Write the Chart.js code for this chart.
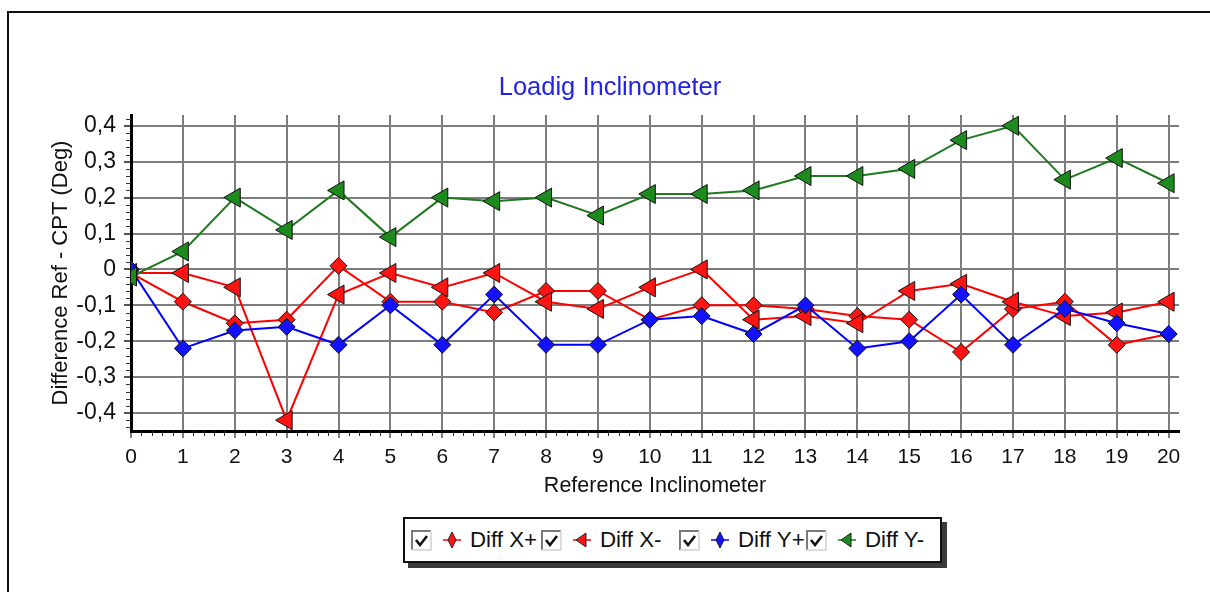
<!DOCTYPE html>
<html lang="en">
<head>
  <meta charset="UTF-8">
  <title>Loadig Inclinometer</title>
  <script src="https://cdn.jsdelivr.net/npm/chart.js"></script>
  <style>
    html, body { margin: 0; padding: 0; background: #fff; }
    body { width: 1210px; height: 592px; position: relative; overflow: hidden; font-family: "Liberation Sans", Arial, sans-serif; }
    #frame { position: absolute; left: 7px; top: 11px; right: -10px; bottom: -10px; border-top: 2px solid #111; border-left: 2px solid #111; }
    #chart { position: absolute; left: 0; top: 0; }
    #title { position: absolute; left: 410px; top: 71px; width: 400px; line-height: 30px; text-align: center; font-size: 25.5px; color: #2323e8; }
    #legend { position: absolute; left: 403px; top: 517px; height: 42px; padding: 0 16px 0 6px; border: 2px solid #111; background: #fff;
              box-shadow: 5px 5px 0 #3a3a3a; display: flex; align-items: center; font-size: 22.3px; color: #111; white-space: nowrap; }
    .item { display: flex; align-items: center; flex-shrink: 0; }
    .item svg { display: block; flex-shrink: 0; }
    .item .check { margin-right: 11px; }
    .item .icon { margin-right: 9px; }
    .item:nth-child(1) { width: 130px; }
    .item:nth-child(2) { width: 138px; }
    .item:nth-child(3) { width: 127px; }
  </style>
</head>
<body>
<div id="frame"></div>
<canvas id="chart" width="1210" height="500"></canvas>
<div id="title">Loadig Inclinometer</div>
<div id="legend"></div>

<script>
  const inclinometers = [0, 1, 2, 3, 4, 5, 6, 7, 8, 9, 10, 11, 12, 13, 14, 15, 16, 17, 18, 19, 20];
  const yTickValues = [-0.4, -0.3, -0.2, -0.1, 0, 0.1, 0.2, 0.3, 0.4];

  const diffXPlus  = [-0.01, -0.09, -0.15, -0.14, 0.01, -0.09, -0.09, -0.12, -0.06, -0.06, -0.14, -0.10, -0.10, -0.11, -0.13, -0.14, -0.23, -0.11, -0.09, -0.21, -0.18];
  const diffXMinus = [-0.01, -0.01, -0.05, -0.42, -0.07, -0.01, -0.05, -0.01, -0.09, -0.11, -0.05, 0.00, -0.14, -0.13, -0.15, -0.06, -0.04, -0.09, -0.13, -0.12, -0.09];
  const diffYPlus  = [0.00, -0.22, -0.17, -0.16, -0.21, -0.10, -0.21, -0.07, -0.21, -0.21, -0.14, -0.13, -0.18, -0.10, -0.22, -0.20, -0.07, -0.21, -0.11, -0.15, -0.18];
  const diffYMinus = [-0.02, 0.05, 0.20, 0.11, 0.22, 0.09, 0.20, 0.19, 0.20, 0.15, 0.21, 0.21, 0.22, 0.26, 0.26, 0.28, 0.36, 0.40, 0.25, 0.31, 0.24];

  const FONT = '"Liberation Sans", Arial, sans-serif';

  function points(values) {
    return inclinometers.map((x, i) => ({ x: x, y: values[i] }));
  }

  function series(label, values, lineColor, fillColor, shape, order) {
    const tri = shape === 'triangle';
    return {
      label: label,
      data: points(values),
      borderColor: lineColor,
      borderWidth: 2,
      pointStyle: shape,
      pointRotation: tri ? -90 : 0,
      pointRadius: tri ? 11 : 8.5,
      pointBackgroundColor: fillColor,
      pointBorderColor: '#111',
      pointBorderWidth: 1,
      tension: 0,
      clip: 0,
      order: order
    };
  }

  // short ticks between the labelled ones, on the outer side of both axes
  const minorTicks = {
    id: 'minorTicks',
    afterDraw(chart) {
      const { ctx, scales: { x, y } } = chart;
      ctx.save();
      ctx.strokeStyle = '#333';
      ctx.lineWidth = 1;
      ctx.beginPath();
      for (let k = -22; k <= 21; k++) {
        if (k % 5 === 0) continue;
        const py = Math.round(y.getPixelForValue(k * 0.02)) + 0.5;
        ctx.moveTo(x.left - 5, py);
        ctx.lineTo(x.left, py);
      }
      for (let k = 1; k <= 100; k++) {
        if (k % 5 === 0) continue;
        const px = Math.round(x.getPixelForValue(k * 0.2)) + 0.5;
        ctx.moveTo(px, y.bottom);
        ctx.lineTo(px, y.bottom + 5);
      }
      ctx.stroke();
      ctx.restore();
    }
  };

  function checkSvg() {
    return '<svg class="check" width="21" height="21" viewBox="0 0 21 21">' +
      '<path d="M1 20 V1 H20" fill="none" stroke="#7a7a7a" stroke-width="2"/>' +
      '<path d="M20 1 V20 H1" fill="none" stroke="#dcdcdc" stroke-width="2"/>' +
      '<polyline points="5,10 9,15 16,6" fill="none" stroke="#111" stroke-width="2.6"/>' +
      '</svg>';
  }

  function iconSvg(ds) {
    const shape = ds.pointStyle === 'triangle'
      ? '<polygon points="3,10 13,3 13,17" fill="' + ds.pointBackgroundColor + '" stroke="#222" stroke-width="1"/>'
      : '<polygon points="9,2 13,10 9,18 5,10" fill="' + ds.pointBackgroundColor + '" stroke="#222" stroke-width="1"/>';
    return '<svg class="icon" width="18" height="20" viewBox="0 0 18 20">' +
      '<line x1="0" y1="10" x2="18" y2="10" stroke="' + ds.borderColor + '" stroke-width="1.5"/>' + shape + '</svg>';
  }

  const htmlLegend = {
    id: 'htmlLegend',
    afterUpdate(chart) {
      const box = document.getElementById('legend');
      box.innerHTML = '';
      chart.data.datasets.forEach(ds => {
        const item = document.createElement('div');
        item.className = 'item';
        item.innerHTML = checkSvg() + iconSvg(ds) + '<span>' + ds.label + '</span>';
        box.appendChild(item);
      });
    }
  };

  new Chart(document.getElementById('chart'), {
    type: 'line',
    data: {
      datasets: [
        series('Diff X+', diffXPlus, '#ff0000', '#ff1414', 'rectRot', 4),
        series('Diff X-', diffXMinus, '#ff0000', '#ff1414', 'triangle', 3),
        series('Diff Y+', diffYPlus, '#0000ff', '#1212ff', 'rectRot', 2),
        series('Diff Y-', diffYMinus, '#1f7a1f', '#1d8a1d', 'triangle', 1)
      ]
    },
    plugins: [minorTicks, htmlLegend],
    options: {
      responsive: false,
      animation: false,
      devicePixelRatio: 1,
      layout: { padding: { left: 10, right: 31, top: 115, bottom: 0 } },
      plugins: {
        legend: { display: false },
        tooltip: { enabled: false },
        title: { display: false }
      },
      scales: {
        x: {
          type: 'linear',
          min: 0,
          max: 20.2,
          afterBuildTicks: s => { s.ticks = inclinometers.map(v => ({ value: v })); },
          afterFit: s => { s.height = 69; },
          ticks: { color: '#111', padding: 7, font: { family: FONT, size: 21 }, maxRotation: 0 },
          grid: { color: '#7d7d7d', lineWidth: 2, tickLength: 7, tickColor: '#7d7d7d' },
          border: { display: true, color: '#000', width: 3 },
          title: {
            display: true,
            text: 'Reference Inclinometer',
            color: '#111',
            font: { family: FONT, size: 21.5 },
            padding: { top: 4, bottom: 1 }
          }
        },
        y: {
          min: -0.45,
          max: 0.43,
          afterBuildTicks: s => { s.ticks = yTickValues.map(v => ({ value: v })); },
          afterFit: s => { s.width = 121; },
          ticks: {
            color: '#111',
            padding: 8,
            font: { family: FONT, size: 23 },
            callback: v => {
              const r = Math.round(v * 10) / 10;
              return r === 0 ? '0' : r.toFixed(1).replace('.', ',');
            }
          },
          grid: { color: '#7d7d7d', lineWidth: 2, tickLength: 7, tickColor: '#555' },
          border: { display: true, color: '#000', width: 3 },
          title: {
            display: true,
            text: 'Difference Ref - CPT (Deg)',
            color: '#111',
            font: { family: FONT, size: 22 },
            padding: { top: 38, bottom: 0 }
          }
        }
      }
    }
  });
</script>
</body>
</html>
